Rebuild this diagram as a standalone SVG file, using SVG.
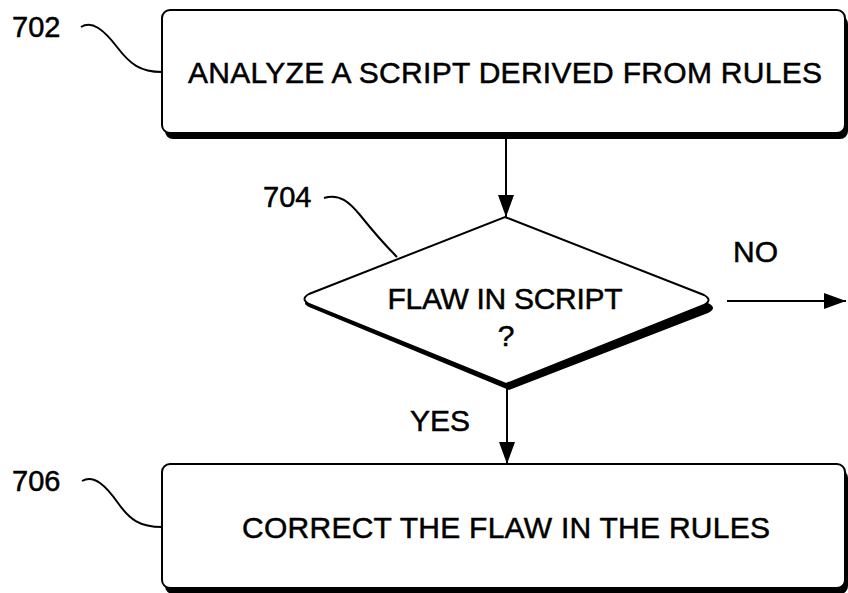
<svg xmlns="http://www.w3.org/2000/svg" width="848" height="593" viewBox="0 0 848 593">
<style>
.box{fill:#fff;stroke:#000;stroke-width:2}
.shadow{fill:#000;stroke:none}
.t{font-family:"Liberation Sans",Arial,sans-serif;font-size:30px;fill:#000;stroke:#000;stroke-width:0.5}
.lbl{font-family:"Liberation Sans",Arial,sans-serif;font-size:29px;fill:#000;stroke:#000;stroke-width:0.5}
.lead{fill:none;stroke:#000;stroke-width:2}
.conn{fill:none;stroke:#000;stroke-width:2}
</style>
<defs>
<marker id="arrow" markerUnits="userSpaceOnUse" markerWidth="22" markerHeight="16" refX="22" refY="8" orient="auto">
<path d="M0,0 L22,8 L0,16 z" fill="#000"/>
</marker>
</defs>
<rect width="848" height="593" fill="#fff"/>
<g id="node-702">
<rect class="shadow" x="165" y="16" width="683" height="123" rx="8"/>
<rect class="box" x="162" y="10" width="683" height="123" rx="8"/>
<text class="t" x="505" y="83" text-anchor="middle" textLength="634" lengthAdjust="spacing">ANALYZE A SCRIPT DERIVED FROM RULES</text>
<text class="lbl" x="12" y="37">702</text>
<path class="lead" d="M81,27 C92,20 104,30 117,47 C130,64 140,72 162,72"/>
</g>
<g id="node-704">
<path class="shadow" d="M508,222 L708,303 Q718,308 708,313 L509,390 L309,307 Q301,303 309,300 Z"/>
<path class="box" d="M505,217 L704,295 Q713,300 704,305 L506,384 L309,304 Q300,299 309,294 Z"/>
<text class="t" x="505" y="309" text-anchor="middle" textLength="235" lengthAdjust="spacing">FLAW IN SCRIPT</text>
<text class="t" x="506" y="346" text-anchor="middle">?</text>
<text class="lbl" x="263" y="207">704</text>
<path class="lead" d="M324,198 C340,193 350,203 360,215 C372,230 385,245 397,257"/>
</g>
<g id="node-706">
<rect class="shadow" x="165" y="470" width="683" height="124" rx="8"/>
<rect class="box" x="162" y="464" width="683" height="124" rx="8"/>
<text class="t" x="506" y="538" text-anchor="middle" textLength="528" lengthAdjust="spacing">CORRECT THE FLAW IN THE RULES</text>
<text class="lbl" x="12" y="491">706</text>
<path class="lead" d="M82,481 C94,474 106,486 118,503 C130,520 140,527 162,527"/>
</g>
<g id="connectors">
<line class="conn" x1="506" y1="139" x2="506" y2="217" marker-end="url(#arrow)"/>
<line class="conn" x1="507" y1="388" x2="507" y2="464" marker-end="url(#arrow)"/>
<line class="conn" x1="727" y1="301" x2="846" y2="301" marker-end="url(#arrow)"/>
<text class="t" x="410" y="431" font-size="29">YES</text>
<text class="t" x="733" y="262" font-size="29">NO</text>
</g>
</svg>
